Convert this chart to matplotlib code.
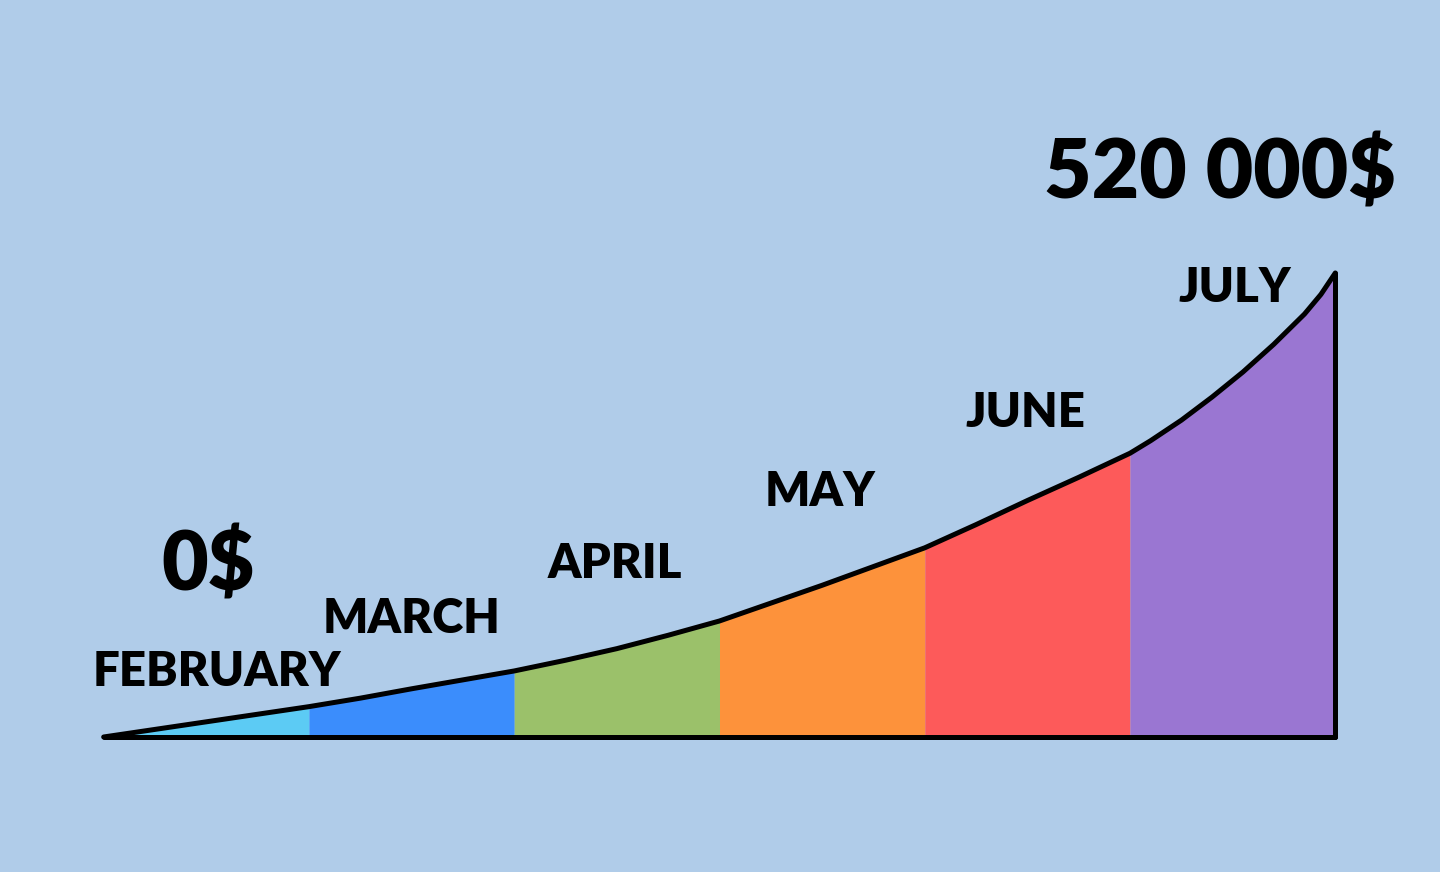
import numpy as np
import matplotlib.pyplot as plt

# colours
c_background = '#b0cce9'
c_line = 'black'
month_colors = ['#5ccbf4', '#3b8dfc', '#9bc16a', '#fd923b', '#fd5a5a', '#9a76d2']

# data (thousands of $), x in months since start of February
months = ['FEBRUARY', 'MARCH', 'APRIL', 'MAY', 'JUNE', 'JULY']
curve_x = [0, 0.25, 0.5, 0.75, 1, 1.25, 1.5, 1.75, 2, 2.25, 2.5, 2.75, 3,
           3.25, 3.5, 3.75, 4, 4.25, 4.5, 4.75, 5, 5.1, 5.25, 5.4, 5.55,
           5.7, 5.85, 5.93, 6]
curve_y = [0, 8.5, 17, 25.5, 34, 43.5, 54, 64, 74, 86, 99, 114, 130,
           150, 170, 191, 212, 238, 265, 291, 318, 332, 355, 381, 409,
           440, 474, 496, 520]
start_label = '0$'
end_label = '520 000$'

# label anchors (ha=center, baseline) in data coords
month_label_pos = [(0.55, 57), (1.5, 117), (2.49, 178), (3.49, 259), (4.49, 347), (5.51, 487)]
start_label_pos = (0.51, 164)
end_label_pos = (5.44, 604)


def style_axes(ax):
    ax.set_xlim(-0.505, 6.51)
    ax.set_ylim(-151.3, 825.9)
    ax.axis('off')


def plot_growth():
    fig = plt.figure(figsize=(14.4, 8.72), dpi=100)
    fig.patch.set_facecolor(c_background)
    ax = fig.add_axes([0, 0, 1, 1])
    ax.set_facecolor(c_background)
    style_axes(ax)

    x = np.array(curve_x)
    y = np.array(curve_y)

    # one coloured band per month
    for i, color in enumerate(month_colors):
        sel = (x >= i) & (x <= i + 1)
        ax.fill_between(x[sel], 0, y[sel], color=color, linewidth=0)

    # outline
    lw = 3.6
    ax.plot(x, y, color=c_line, lw=lw, solid_capstyle='round', solid_joinstyle='round')
    ax.plot([x[0], x[-1]], [0, 0], color=c_line, lw=lw, solid_capstyle='round')
    ax.plot([x[-1], x[-1]], [0, y[-1]], color=c_line, lw=lw, solid_capstyle='round')

    font = dict(family='Lato', weight='heavy', color='black', ha='center', va='baseline')
    for name, (lx, ly) in zip(months, month_label_pos):
        ax.text(lx, ly, name, fontsize=34, **font)
    ax.text(*start_label_pos, start_label, fontsize=58, **font)
    ax.text(*end_label_pos, end_label, fontsize=59, **font)

    fig.savefig('out.png', dpi=100, facecolor=c_background)


if __name__ == "__main__":
    plot_growth()
